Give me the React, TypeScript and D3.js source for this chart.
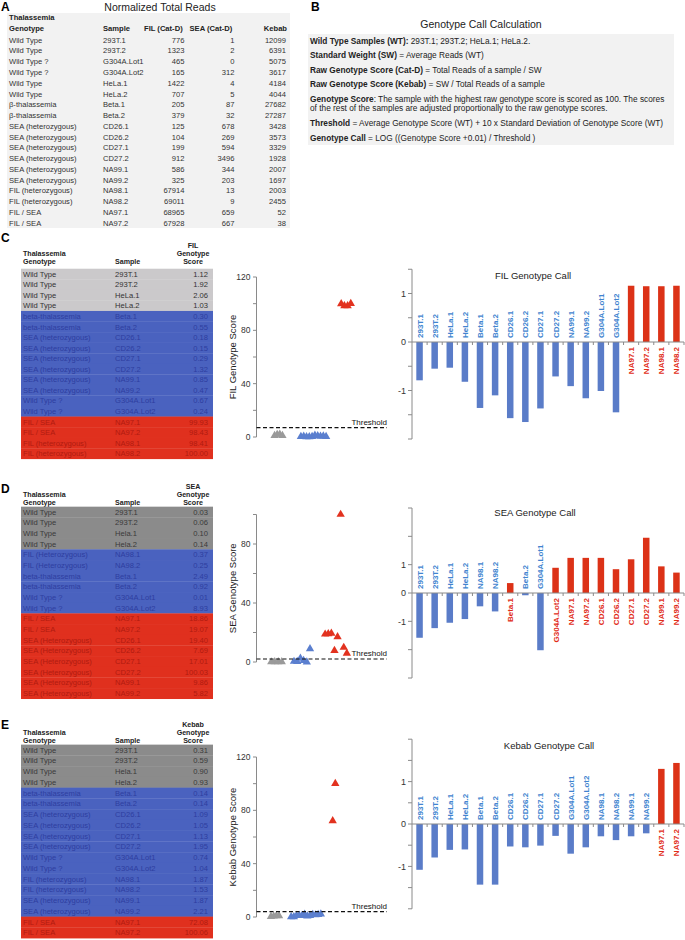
import React from 'react';
import * as d3 from 'd3';

const FONT = '"Liberation Sans", Arial, Helvetica, sans-serif';

// ---------- Panel A: normalized total reads ----------
const aGenotypes = [
  'Wild Type', 'Wild Type', 'Wild Type ?', 'Wild Type ?', 'Wild Type', 'Wild Type',
  'β-thalassemia', 'β-thalassemia', 'SEA (heterozygous)', 'SEA (heterozygous)',
  'SEA (heterozygous)', 'SEA (heterozygous)', 'SEA (heterozygous)', 'SEA (heterozygous)',
  'FIL (heterozygous)', 'FIL (heterozygous)', 'FIL / SEA', 'FIL / SEA',
];
const aSamples = [
  '293T.1', '293T.2', 'G304A.Lot1', 'G304A.Lot2', 'HeLa.1', 'HeLa.2', 'Beta.1', 'Beta.2',
  'CD26.1', 'CD26.2', 'CD27.1', 'CD27.2', 'NA99.1', 'NA99.2', 'NA98.1', 'NA98.2', 'NA97.1', 'NA97.2',
];
const aFil = [776, 1323, 465, 165, 1422, 707, 205, 379, 125, 104, 199, 912, 586, 325, 67914, 69011, 68965, 67928];
const aSea = [1, 2, 0, 312, 4, 5, 87, 32, 678, 269, 594, 3496, 344, 203, 13, 9, 659, 667];
const aKebab = [12099, 6391, 5075, 3617, 4184, 4044, 27682, 27287, 3428, 3573, 3329, 1928, 2007, 1697, 2003, 2455, 52, 38];

// ---------- Panel B: text ----------
const bLines: [string, string][] = [
  ['Wild Type Samples (WT):', ' 293T.1; 293T.2; HeLa.1; HeLa.2.'],
  ['Standard Weight (SW)', ' = Average Reads (WT)'],
  ['Raw Genotype Score (Cat-D)', ' = Total Reads of a sample / SW'],
  ['Raw Genotype Score (Kebab)', ' = SW / Total Reads of a sample'],
  ['Genotype Score', ': The sample with the highest raw genotype score is scored as 100. The scores'],
  ['', 'of the rest of the samples are adjusted proportionally to the raw genotype scores.'],
  ['Threshold', ' = Average Genotype Score (WT) + 10 x Standard Deviation of Genotype Score (WT)'],
  ['Genotype Call', ' = LOG ((Genotype Score +0.01) / Threshold )'],
];

// ---------- Panel C: FIL ----------
const cGenotypes = [
  'Wild Type', 'Wild Type', 'Wild Type', 'Wild Type', 'beta-thalassemia', 'beta-thalassemia',
  'SEA (heterozygous)', 'SEA (heterozygous)', 'SEA (heterozygous)', 'SEA (heterozygous)',
  'SEA (heterozygous)', 'SEA (heterozygous)', 'Wild Type ?', 'Wild Type ?',
  'FIL / SEA', 'FIL / SEA', 'FIL (heterozygous)', 'FIL (heterozygous)',
];
const cSamples = [
  '293T.1', '293T.2', 'HeLa.1', 'HeLa.2', 'Beta.1', 'Beta.2', 'CD26.1', 'CD26.2', 'CD27.1',
  'CD27.2', 'NA99.1', 'NA99.2', 'G304A.Lot1', 'G304A.Lot2', 'NA97.1', 'NA97.2', 'NA98.1', 'NA98.2',
];
const cScores = [1.12, 1.92, 2.06, 1.03, 0.30, 0.55, 0.18, 0.15, 0.29, 1.32, 0.85, 0.47, 0.67, 0.24, 99.93, 98.43, 98.41, 100.00];
const cGroups = [0, 0, 0, 0, 1, 1, 1, 1, 1, 1, 1, 1, 1, 1, 2, 2, 2, 2];
const cBarSamples = cSamples;
const cBarValues = [-0.79, -0.55, -0.53, -0.82, -1.36, -1.10, -1.57, -1.65, -1.37, -0.71, -0.91, -1.16, -1.01, -1.45, 1.16, 1.15, 1.15, 1.16];
const cThreshold = 7;

// ---------- Panel D: SEA ----------
const dGenotypes = [
  'Wild Type', 'Wild Type', 'Wild Type', 'Wild Type', 'FIL (Heterozygous)', 'FIL (Heterozygous)',
  'beta-thalassemia', 'beta-thalassemia', 'Wild Type ?', 'Wild Type ?', 'FIL / SEA', 'FIL / SEA',
  'SEA (Heterozygous)', 'SEA (Heterozygous)', 'SEA (Heterozygous)', 'SEA (Heterozygous)',
  'SEA (Heterozygous)', 'SEA (Heterozygous)',
];
const dSamples = [
  '293T.1', '293T.2', 'Hela.1', 'Hela.2', 'NA98.1', 'NA98.2', 'Beta.1', 'Beta.2', 'G304A.Lot1',
  'G304A.Lot2', 'NA97.1', 'NA97.2', 'CD26.1', 'CD26.2', 'CD27.1', 'CD27.2', 'NA99.1', 'NA99.2',
];
const dScores = [0.03, 0.06, 0.10, 0.14, 0.37, 0.25, 2.49, 0.92, 0.01, 8.93, 18.86, 19.07, 19.40, 7.69, 17.01, 100.03, 9.86, 5.82];
const dGroups = [0, 0, 0, 0, 1, 1, 1, 1, 1, 1, 2, 2, 2, 2, 2, 2, 2, 2];
const dBarSamples = [
  '293T.1', '293T.2', 'HeLa.1', 'HeLa.2', 'NA98.1', 'NA98.2', 'Beta.1', 'Beta.2', 'G304A.Lot1',
  'G304A.Lot2', 'NA97.1', 'NA97.2', 'CD26.1', 'CD26.2', 'CD27.1', 'CD27.2', 'NA99.1', 'NA99.2',
];
const dBarValues = [-1.58, -1.24, -1.05, -0.92, -0.47, -0.65, 0.35, -0.08, -2.02, 0.89, 1.24, 1.24, 1.24, 0.84, 1.19, 1.95, 0.94, 0.72];
const dThreshold = 2;

// ---------- Panel E: Kebab ----------
const eGenotypes = [
  'Wild Type', 'Wild Type', 'Wild Type', 'Wild Type', 'beta-thalassemia', 'beta-thalassemia',
  'SEA (heterozygous)', 'SEA (heterozygous)', 'SEA (heterozygous)', 'SEA (heterozygous)',
  'Wild Type ?', 'Wild Type ?', 'FIL (heterozygous)', 'FIL (heterozygous)',
  'SEA (heterozygous)', 'SEA (heterozygous)', 'FIL / SEA', 'FIL / SEA',
];
const eSamples = [
  '293T.1', '293T.2', 'Hela.1', 'Hela.2', 'Beta.1', 'Beta.2', 'CD26.1', 'CD26.2', 'CD27.1',
  'CD27.2', 'G304A.Lot1', 'G304A.Lot2', 'NA98.1', 'NA98.2', 'NA99.1', 'NA99.2', 'NA97.1', 'NA97.2',
];
const eScores = [0.31, 0.59, 0.90, 0.93, 0.14, 0.14, 1.09, 1.05, 1.13, 1.95, 0.74, 1.04, 1.87, 1.53, 1.87, 2.21, 72.08, 100.06];
const eGroups = [0, 0, 0, 0, 1, 1, 1, 1, 1, 1, 1, 1, 1, 1, 1, 1, 2, 2];
const eBarSamples = [
  '293T.1', '293T.2', 'HeLa.1', 'HeLa.2', 'Beta.1', 'Beta.2', 'CD26.1', 'CD26.2', 'CD27.1',
  'CD27.2', 'G304A.Lot1', 'G304A.Lot2', 'NA98.1', 'NA98.2', 'NA99.1', 'NA99.2', 'NA97.1', 'NA97.2',
];
const eBarValues = [-1.08, -0.79, -0.61, -0.60, -1.43, -1.43, -0.53, -0.55, -0.51, -0.28, -0.70, -0.55, -0.29, -0.38, -0.29, -0.22, 1.30, 1.44];
const eThreshold = 4;

const BLUE_BG = '#4a62bf';
const BLUE_TXT = '#2e3ea0';
const RED_BG = '#e0301e';
const RED_TXT = '#b01b10';
const TRI = ['#9a9a9a', '#5b7fcf', '#e2321f'];
const BAR_BLUE = '#5a7cc8';
const BAR_RED = '#dc3217';
const LBL_BLUE = '#4184cf';
const LBL_RED = '#e12c18';
const AXIS = '#8a8a8a';

function ScoreTable({ letter, letterY, header, headerY, genotypes, samples, scores, groups, rowY0, rowH, grayBg, grayTxt }: any) {
  const rowY = (i: number) => rowY0 + i * rowH;
  return (
    <g fontFamily={FONT}>
      <text x={1} y={letterY} fontSize={12} fontWeight="bold">{letter}</text>
      <g fontWeight="bold" fontSize={7.1} fill="#222">
        <text x={23} y={headerY[1] + 2.5}>Thalassemia</text>
        <text x={23} y={headerY[2] + 2.5}>Genotype</text>
        <text x={115} y={headerY[2] + 2.5}>Sample</text>
        {header.map((h: string, k: number) => (
          <text key={k} x={193} y={headerY[k] + 2.5} textAnchor="middle">{h}</text>
        ))}
      </g>
      {samples.map((s: string, i: number) => {
        const bg = groups[i] === 0 ? grayBg : groups[i] === 1 ? BLUE_BG : RED_BG;
        const tc = groups[i] === 0 ? grayTxt : groups[i] === 1 ? BLUE_TXT : RED_TXT;
        const y = rowY(i);
        return (
          <g key={i} fontSize={7.6} fill={tc}>
            <rect x={21} y={y - rowH / 2} width={192} height={rowH + 0.3} fill={bg} />
            <text x={23} y={y + 2.7}>{genotypes[i]}</text>
            <text x={115} y={y + 2.7}>{s}</text>
            <text x={208} y={y + 2.7} textAnchor="end">{scores[i].toFixed(2)}</text>
          </g>
        );
      })}
    </g>
  );
}

function Scatter({ label, scores, groups, domainMax, y0, yTop, tickStep, labelStep, centers, steps, threshold }: any) {
  const ax = 256.5;
  const y = d3.scaleLinear().domain([0, domainMax]).range([y0, yTop]);
  const ticks = d3.range(0, domainMax + 0.001, tickStep);
  const tri = d3.symbol().type(d3.symbolTriangle).size(30)();
  const counts = [0, 1, 2].map((g) => groups.filter((v: number) => v === g).length);
  const seen = [0, 0, 0];
  return (
    <g fontFamily={FONT}>
      <line x1={ax} x2={ax} y1={y(0)} y2={y(domainMax)} stroke={AXIS} />
      {ticks.map((t: number) => (
        <g key={t}>
          <line x1={ax - 3.5} x2={ax} y1={y(t)} y2={y(t)} stroke={AXIS} />
          {t % labelStep === 0 && (
            <text x={ax - 6} y={y(t) + 3} fontSize={8.5} textAnchor="end" fill="#333">{t}</text>
          )}
        </g>
      ))}
      <text transform={`translate(235.5,${(y(0) + y(domainMax)) / 2}) rotate(-90)`} fontSize={9.5} textAnchor="middle" fill="#222">{label}</text>
      {scores.map((v: number, i: number) => {
        const g = groups[i];
        const j = seen[g]++;
        const cx = centers[g] + (j - (counts[g] - 1) / 2) * steps[g];
        return <path key={i} d={tri as string} transform={`translate(${cx},${y(v)})`} fill={TRI[g]} />;
      })}
      <line x1={ax} x2={387} y1={y(threshold)} y2={y(threshold)} stroke="#111" strokeWidth={1.1} strokeDasharray="4,2.5" />
      <text x={387} y={y(threshold) - 3} fontSize={8} textAnchor="end" fill="#111">Threshold</text>
    </g>
  );
}

function CallBars({ title, titleX, titleY, samples, values, domain, yBottom, yTop, tickStep }: any) {
  const x = d3.scaleBand<string>().domain(samples).range([412, 684]).paddingInner(0.57).paddingOuter(0.285);
  const y = d3.scaleLinear().domain(domain).range([yBottom, yTop]);
  const ticks = d3.range(domain[0], domain[1] + 0.001, tickStep);
  const step = x.step();
  const start = 412;
  return (
    <g fontFamily={FONT}>
      <line x1={412} x2={412} y1={yBottom} y2={yTop} stroke={AXIS} />
      {ticks.map((t: number) => (
        <g key={t}>
          <line x1={408} x2={412} y1={y(t)} y2={y(t)} stroke={AXIS} />
          {[-1, 0, 1].includes(Math.round(t * 100) / 100) && (
            <text x={406} y={y(t) + 3.2} fontSize={9} textAnchor="end" fill="#333">{t}</text>
          )}
        </g>
      ))}
      <text x={titleX} y={titleY} fontSize={9.5} textAnchor="middle" fill="#222">{title}</text>
      {values.map((v: number, i: number) => {
        const s = samples[i];
        const cx = (x(s) as number) + x.bandwidth() / 2;
        const pos = v > 0;
        return (
          <g key={i}>
            <rect x={x(s)} y={y(Math.max(0, v))} width={x.bandwidth()} height={Math.abs(y(v) - y(0))} fill={pos ? BAR_RED : BAR_BLUE} />
            <text
              transform={`translate(${cx + 3},${pos ? y(0) + 5 : y(0) - 4}) rotate(-90)`}
              fontSize={8}
              fontWeight="bold"
              textAnchor={pos ? 'end' : 'start'}
              fill={pos ? LBL_RED : LBL_BLUE}
            >
              {s}
            </text>
          </g>
        );
      })}
      <line x1={412} x2={684} y1={y(0)} y2={y(0)} stroke={AXIS} />
      {d3.range(1, samples.length + 1).map((k: number) => (
        <line key={k} x1={start + k * step} x2={start + k * step} y1={y(0)} y2={y(0) + 3} stroke={AXIS} />
      ))}
    </g>
  );
}

export default function App() {
  const aRowY = (i: number) => 40 + i * 10.76;
  return (
    <div style={{ position: 'absolute', left: 0, top: 0 }}>
      <svg width={685} height={940} style={{ display: 'block', background: '#fff' }}>
        {/* Panel A */}
        <g fontFamily={FONT}>
          <text x={1} y={10.5} fontSize={12} fontWeight="bold">A</text>
          <text x={160} y={10.5} fontSize={10.5} textAnchor="middle" fill="#222">Normalized Total Reads</text>
          <rect x={7} y={13} width={283} height={215} fill="#f2f2f2" />
          <g fontSize={7.6} fontWeight="bold" fill="#222">
            <text x={9} y={19.7}>Thalassemia</text>
            <text x={9} y={30.7}>Genotype</text>
            <text x={103} y={30.7}>Sample</text>
            <text x={144} y={30.7}>FIL (Cat-D)</text>
            <text x={189.5} y={30.7}>SEA (Cat-D)</text>
            <text x={287} y={30.7} textAnchor="end">Kebab</text>
          </g>
          {aSamples.map((s, i) => (
            <g key={i} fontSize={7.6} fill="#333">
              <text x={9} y={aRowY(i) + 2.7}>{aGenotypes[i]}</text>
              <text x={103} y={aRowY(i) + 2.7}>{s}</text>
              <text x={184.5} y={aRowY(i) + 2.7} textAnchor="end">{aFil[i]}</text>
              <text x={234.5} y={aRowY(i) + 2.7} textAnchor="end">{aSea[i]}</text>
              <text x={286} y={aRowY(i) + 2.7} textAnchor="end">{aKebab[i]}</text>
            </g>
          ))}
        </g>

        {/* Panel B */}
        <g fontFamily={FONT}>
          <text x={311} y={10.5} fontSize={12} fontWeight="bold">B</text>
          <text x={481} y={27.5} fontSize={10.5} textAnchor="middle" fill="#222">Genotype Call Calculation</text>
          <rect x={308} y={34} width={366} height={111} fill="#f2f2f2" />
          {bLines.map((ln, i) => {
            const ys = [43.7, 57.7, 72.7, 87, 101.7, 111, 126, 141];
            return (
              <text key={i} x={310} y={ys[i]} fontSize={8.3} fill="#222">
                {ln[0] && <tspan fontWeight="bold">{ln[0]}</tspan>}
                <tspan>{ln[1]}</tspan>
              </text>
            );
          })}
        </g>

        {/* Panel C */}
        <ScoreTable letter="C" letterY={242} header={['FIL', 'Genotype', 'Score']} headerY={[245, 253.2, 261.4]}
          genotypes={cGenotypes} samples={cSamples} scores={cScores} groups={cGroups}
          rowY0={274} rowH={10.56} grayBg="#cbc9cb" grayTxt="#333" />
        <Scatter label="FIL Genotype Score" scores={cScores} groups={cGroups} domainMax={120}
          y0={437} yTop={277} tickStep={20} labelStep={40}
          centers={[278.5, 313.5, 346]} steps={[2.6, 2.8, 3.2]} threshold={cThreshold} />
        <CallBars title="FIL Genotype Call" titleX={533} titleY={279} samples={cBarSamples} values={cBarValues}
          domain={[-2, 1.5]} yBottom={439} yTop={269.25} tickStep={0.5} />

        {/* Panel D */}
        <ScoreTable letter="D" letterY={493} header={['SEA', 'Genotype', 'Score']} headerY={[486.5, 494.7, 502.9]}
          genotypes={dGenotypes} samples={dSamples} scores={dScores} groups={dGroups}
          rowY0={512} rowH={10.67} grayBg="#8b8b8b" grayTxt="#3a3a3a" />
        <Scatter label="SEA Genotype Score" scores={dScores} groups={dGroups} domainMax={100}
          y0={662} yTop={514.5} tickStep={20} labelStep={40}
          centers={[276.5, 302, 336]} steps={[3.5, 3.2, 3.1]} threshold={dThreshold} />
        <CallBars title="SEA Genotype Call" titleX={535} titleY={516} samples={dBarSamples} values={dBarValues}
          domain={[-3, 3]} yBottom={678} yTop={508} tickStep={1} />

        {/* Panel E */}
        <ScoreTable letter="E" letterY={729} header={['Kebab', 'Genotype', 'Score']} headerY={[724, 732.2, 740.4]}
          genotypes={eGenotypes} samples={eSamples} scores={eScores} groups={eGroups}
          rowY0={750} rowH={10.75} grayBg="#8b8b8b" grayTxt="#3a3a3a" />
        <Scatter label="Kebab Genotype Score" scores={eScores} groups={eGroups} domainMax={120}
          y0={917} yTop={757} tickStep={20} labelStep={40}
          centers={[275, 306, 334]} steps={[2.7, 2.7, 2.6]} threshold={eThreshold} />
        <CallBars title="Kebab Genotype Call" titleX={549} titleY={749} samples={eBarSamples} values={eBarValues}
          domain={[-2, 2]} yBottom={908.8} yTop={739.2} tickStep={0.5} />
      </svg>
    </div>
  );
}
